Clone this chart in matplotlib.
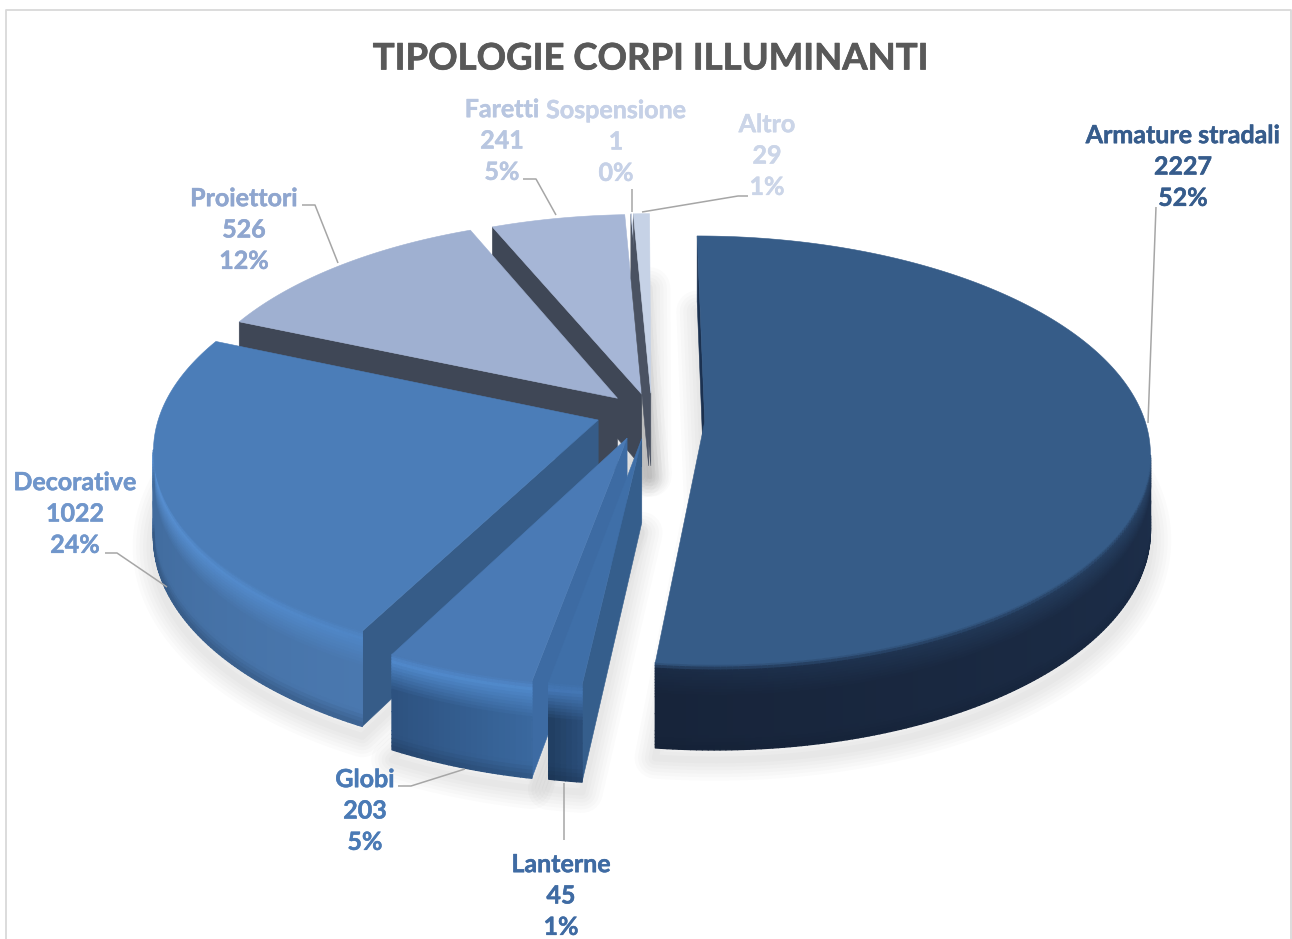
import numpy as np
import matplotlib
matplotlib.use('Agg')
import matplotlib.pyplot as plt
import matplotlib.patheffects as pe
from matplotlib.collections import PolyCollection
from matplotlib.colors import to_rgb
from matplotlib.patches import Polygon

# dati
categories = ['Armature stradali', 'Lanterne', 'Globi', 'Decorative',
              'Proiettori', 'Faretti', 'Sospensione', 'Altro']
values = [2227, 45, 203, 1022, 526, 241, 1, 29]
pct_labels = ['52%', '1%', '5%', '24%', '12%', '5%', '0%', '1%']
title = 'TIPOLOGIE CORPI ILLUMINANTI'

# colori
top_colors = ['#365C88', '#3F6FA8', '#4A7AB5', '#4B7DB8', '#9FB0D1', '#A6B6D6', '#C0CCE2', '#C6D2E6']
label_colors = ['#365C8C', '#3F6BA3', '#4A7AB5', '#7096CB', '#8FA6CF', '#B8C6E0', '#C6D1E7', '#CBD5E8']
cut_colors = ['#1B3150', '#355E8C', '#3D6BA3', '#365C88', '#3F4756', '#3F4756', '#4A5262', '#4A5262']
side_a = ['#233A5C', '#2A4D78', '#3A689E', '#4A78AF', '#3F4756', '#3F4756', '#4A5262', '#4A5262']
side_b = ['#17243A', '#213F63', '#2D5280', '#3B6392', '#3F4756', '#3F4756', '#4A5262', '#4A5262']
rim_a = ['#3A6290', '#4477B5', '#5089CB', '#4F86C6', '#4F5868', '#4F5868', '#4A5262', '#4A5262']
rim_b = ['#1A2B45', '#4477B5', '#5089CB', '#5F98DC', '#4F5868', '#4F5868', '#4A5262', '#4A5262']

# spostamento delle fette (piano del disco)
offset_u = [0.147, 0.004, -0.029, -0.095, -0.052, 0.004, 0.02, 0.025]
offset_v = [-0.008, -0.088, -0.085, 0.0, 0.105, 0.125, 0.13, 0.13]
depths = [74, 83, 83, 84, 74, 74, 74, 74]
draw_order = [5, 6, 7, 4, 3, 2, 1, 0]

# prospettiva
cx, cy = 640, 420
R, Rs, k = 440, 210, 0.133

# posizioni testi e linee guida
label_pos = [(1183, 167), (561, 896), (365, 811), (75, 514),
             (244, 230), (502, 141), (616, 142), (767, 156)]
leaders = [[(1156, 207), (1148, 423)],
           [(564, 783), (564, 840)],
           [(398, 786), (411, 786), (465, 769)],
           [(105, 553), (117, 553), (167, 587)],
           [(302, 205), (315, 205), (338, 263)],
           [(523, 179), (536, 179), (556, 215)],
           [(632, 189), (632, 212)],
           [(642, 212), (738, 196), (748, 196)]]


def project(u, v, z=0.0, depth=74):
    w = 1 + k * v
    return cx + R * u / w, cy - Rs * v / w + depth * z / w


def mix(c1, c2, t):
    a, b = np.array(to_rgb(c1)), np.array(to_rgb(c2))
    return tuple(a + (b - a) * t)


def area(pts):
    p = np.array(pts)
    x, y = p[:, 0], p[:, 1]
    return 0.5 * np.sum(x * np.roll(y, -1) - y * np.roll(x, -1))


fig = plt.figure(figsize=(12.92, 9.39), dpi=100)
ax = fig.add_axes([0, 0, 1, 1])
ax.set_xlim(0, 1292)
ax.set_ylim(939, 0)
ax.axis('off')

# cornice
ax.plot([6, 6, 1291, 1291], [939, 10, 10, 939], color='#D9D9D9', lw=1.3, zorder=1)

edges = np.cumsum([0] + values) / sum(values) * 360

# ombre
for i in range(len(values)):
    a = np.radians(np.linspace(edges[i], edges[i + 1], max(3, int(edges[i + 1] - edges[i]) + 2)))
    us = np.r_[offset_u[i], offset_u[i] + np.sin(a)]
    vs = np.r_[offset_v[i], offset_v[i] + np.cos(a)]
    x, y = project(us, vs, 1.0, depths[i])
    pts = np.c_[x, y + 10]
    for lw in range(30, 0, -5):
        ax.add_patch(Polygon(pts, closed=True, facecolor='none', edgecolor='k', lw=lw,
                             alpha=0.014, joinstyle='round', zorder=2))

# fette
zo = 3
for i in draw_order:
    d = depths[i]
    n = max(3, int((edges[i + 1] - edges[i]) * 1.5) + 2)
    a = np.radians(np.linspace(edges[i], edges[i + 1], n))
    us = offset_u[i] + np.sin(a)
    vs = offset_v[i] + np.cos(a)
    u_all = np.r_[offset_u[i], us]
    v_all = np.r_[offset_v[i], vs]
    x, y = project(u_all, v_all)
    top = np.c_[x, y]
    sign = np.sign(area(top))

    # facce di taglio
    for j0, j1 in [(0, 1), (n, 0)]:
        p = project(u_all[j0], v_all[j0])
        q = project(u_all[j1], v_all[j1])
        p2 = project(u_all[j0], v_all[j0], 1.0, d)
        q2 = project(u_all[j1], v_all[j1], 1.0, d)
        quad = [p, q, q2, p2]
        if np.sign(area(quad)) != sign:
            ax.add_patch(Polygon(quad, closed=True, facecolor=cut_colors[i],
                                 edgecolor=cut_colors[i], lw=0.4, zorder=zo))
            zo += 1

    # lato curvo, a strisce
    polys, cols = [], []
    rows = np.r_[np.linspace(0, 0.4, 13), 0.6, np.linspace(0.8, 1.0, 6)]
    for s in range(n - 1):
        p = project(us[s], vs[s])
        q = project(us[s + 1], vs[s + 1])
        p2 = project(us[s], vs[s], 1.0, d)
        q2 = project(us[s + 1], vs[s + 1], 1.0, d)
        if np.sign(area([p, q, q2, p2])) == sign:
            continue
        t = s / max(1, n - 2)
        for r in range(len(rows) - 1):
            z0, z1 = rows[r], rows[r + 1]
            polys.append([project(us[s], vs[s], z0, d), project(us[s + 1], vs[s + 1], z0, d),
                          project(us[s + 1], vs[s + 1], z1, d), project(us[s], vs[s], z1, d)])
            base = mix(side_a[i], side_b[i], t)
            rim = mix(rim_a[i], rim_b[i], t)
            zm = 0.5 * (z0 + z1)
            if zm < 0.08:
                c = mix(top_colors[i], rim, zm / 0.08)
            elif zm < 0.38:
                c = mix(rim, base, (zm - 0.08) / 0.30)
            else:
                c = base
            if zm > 0.85:
                c = mix(c, '#0E1A2C', (zm - 0.85) * 1.6)
            cols.append(c)
    if polys:
        ax.add_collection(PolyCollection(polys, facecolors=cols, edgecolors=cols, linewidths=1.0, zorder=zo))
        zo += 1

    # faccia superiore
    ax.add_patch(Polygon(top, closed=True, facecolor=top_colors[i], edgecolor=top_colors[i],
                         lw=0.4, zorder=zo))
    zo += 1

# linee guida
for line in leaders:
    xs, ys = zip(*line)
    ax.plot(xs, ys, color='#A6A6A6', lw=1.1, zorder=zo, solid_capstyle='butt')

# etichette
for name, val, pct, pos, col in zip(categories, values, pct_labels, label_pos, label_colors):
    ax.text(pos[0], pos[1], f'{name}\n{val}\n{pct}', ha='center', va='center', color=col,
            family='Lato', weight='bold', fontsize=18, linespacing=1.44, zorder=zo + 1,
            path_effects=[pe.withStroke(linewidth=0.35, foreground=col)])

ax.text(650, 59, title, ha='center', va='center', color='#595959', family='Lato',
        weight='bold', fontsize=26.3, zorder=zo + 1,
        path_effects=[pe.withStroke(linewidth=0.5, foreground='#595959')])

fig.savefig('out.png', dpi=100)
